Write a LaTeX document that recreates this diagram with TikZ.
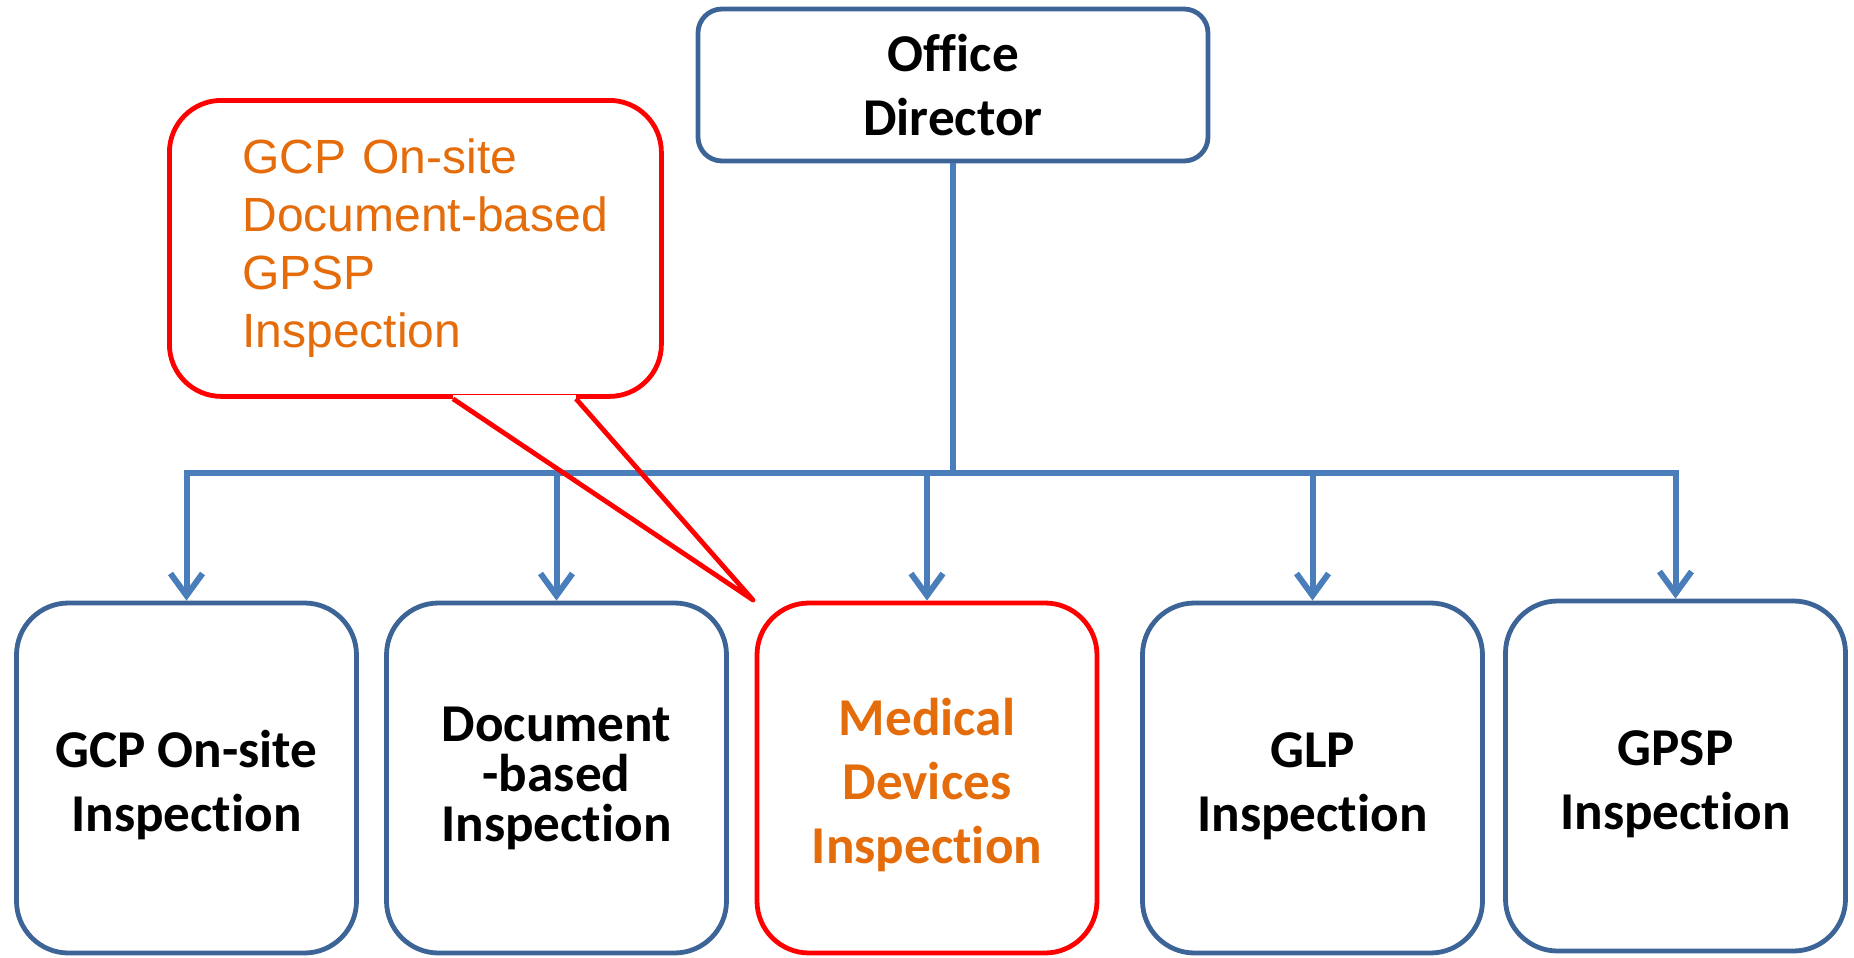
\documentclass[tikz,border=0pt]{standalone}
\usepackage{fontspec}
\setmainfont{Carlito}[Ligatures=NoCommon]
\newfontfamily\calloutfont{Liberation Sans}
\usetikzlibrary{arrows.meta}
\definecolor{boxblue}{RGB}{60,100,150}
\definecolor{linkblue}{RGB}{74,126,187}
\definecolor{orangetext}{RGB}{228,108,10}
\newcommand\myfirststrut{\rule{0pt}{25.5pt}}
\begin{document}
\begin{tikzpicture}[x=0.5pt,y=-0.5pt,
  unit/.style={draw=boxblue, line width=2.4pt, rounded corners=26pt,
    minimum width=170pt, minimum height=175pt, align=center, inner sep=0pt,
    font=\fontsize{26.6}{32}\selectfont\bfseries},
  tightunit/.style={unit, font=\fontsize{26.6}{25}\selectfont\bfseries},
  redunit/.style={unit, draw=red, text=orangetext},
  topbox/.style={draw=boxblue, line width=2.4pt, rounded corners=12pt,
    minimum width=255pt, minimum height=76pt, align=center, inner sep=0pt,
    font=\fontsize{26.6}{32}\selectfont\bfseries},
  link/.style={draw=linkblue, line width=3pt},
  linkarrow/.style={link, -{Straight Barb[length=11pt,width=16pt]}},
  calloutbox/.style={draw=red, line width=2.4pt, rounded corners=26pt,
    minimum width=246pt, minimum height=148pt, text width=173pt, align=left,
    inner sep=0pt, text=orangetext, font=\calloutfont\fontsize{24}{29}\selectfont}
]
\useasboundingbox (0,0) rectangle (1854,958);

% boxes
\node[topbox] (dir) at (953,85) {Office\\Director};
\node[unit] (b1) at (186.5,778) {\myfirststrut GCP On-site\\Inspection};
\node[tightunit] (b2) at (556.5,778) {Document\\-based\\Inspection};
\node[redunit] (b3) at (927,778) {\myfirststrut Medical\\Devices\\Inspection};
\node[unit] (b4) at (1312.5,778) {\myfirststrut GLP\\Inspection};
\node[unit] (b5) at (1675.5,776) {\myfirststrut GPSP\\Inspection};

% connectors
\coordinate (busy) at (0,473);
\draw[link] (dir.south) -- (dir.south |- busy);
\draw[link, line cap=rect] (b1.north |- busy) -- (b5.north |- busy);
\foreach \b in {b1,b2,b3,b4,b5}
  \draw[linkarrow] (\b.north |- busy) -- (\b.north);

% callout
\node[calloutbox, anchor=north west] (callout) at (167,98)
  {\mbox{GCP On-site}\\\mbox{Document-based}\\\mbox{GPSP}\\\mbox{Inspection}};
\coordinate (pa) at ([xshift=143pt]callout.south west);
\coordinate (pb) at ([xshift=204.5pt]callout.south west);
\coordinate (tip) at (753,600);
\draw[white, line width=3.4pt] (pa) -- (pb);
\draw[red, line width=2.4pt, line join=round] (pa) -- (tip) -- (pb);
\end{tikzpicture}
\end{document}
